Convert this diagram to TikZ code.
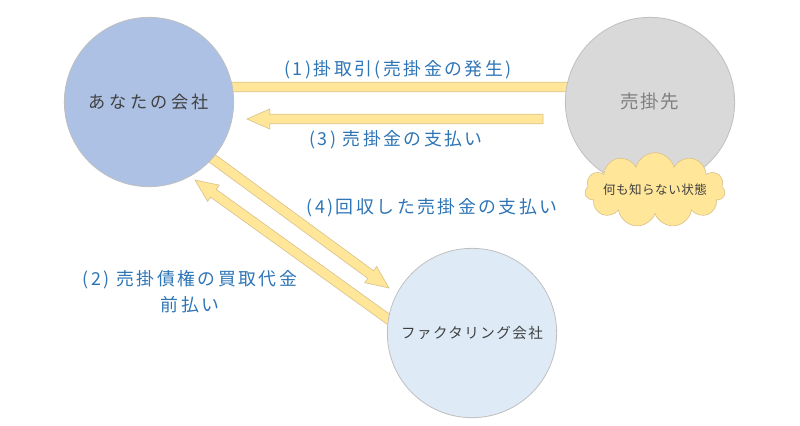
\documentclass[tikz,border=0pt]{standalone}
\usepackage{fontspec}
\setmainfont{Noto Sans CJK JP}
\usetikzlibrary{calc,backgrounds,shapes.symbols}

\definecolor{youblue}{HTML}{ADC1E5}
\definecolor{buyergray}{HTML}{D9D9D9}
\definecolor{factorblue}{HTML}{DEEBF7}
\definecolor{bandyellow}{HTML}{FFE699}
\definecolor{bandedge}{HTML}{D9C48E}
\definecolor{ringgray}{HTML}{BFBFBF}
\definecolor{labelblue}{HTML}{2E75B6}
\definecolor{textgray}{HTML}{404040}

% wide arrow from #1 to #2
\newcommand{\bandarrow}[2]{%
  \coordinate (hb) at ($(#2)!17pt!(#1)$);
  \filldraw[band] ($(#1)!3.6pt!-90:(#2)$) -- ($(hb)!3.6pt!-90:(#2)$)
    -- ($(hb)!7.5pt!-90:(#2)$) -- (#2) -- ($(hb)!7.5pt!90:(#2)$)
    -- ($(hb)!3.6pt!90:(#2)$) -- ($(#1)!3.6pt!90:(#2)$) -- cycle;
}

\begin{document}
\begin{tikzpicture}[x=0.75pt, y=-0.75pt,
  company/.style={circle, draw=ringgray, line width=0.6pt, minimum size=127pt, inner sep=0pt},
  band/.style={fill=bandyellow, draw=bandedge, line width=0.5pt},
  flowlabel/.style={text=labelblue, font=\fontsize{13.4pt}{19.5pt}\selectfont\addfontfeature{LetterSpace=14}}]
\useasboundingbox (0,0) rectangle (800,425);

\node [company, fill=youblue, text=textgray,
  font=\fontsize{12.9pt}{15pt}\selectfont\addfontfeature{LetterSpace=20}] (you) at (149,102) {あなたの会社};
\node [company, fill=buyergray, text=gray,
  font=\fontsize{13.9pt}{16pt}\selectfont\addfontfeature{LetterSpace=8}] (buyer) at (650,102) {売掛先};
\node [company, fill=factorblue, text=textgray,
  font=\fontsize{10.9pt}{13pt}\selectfont\addfontfeature{LetterSpace=10}] (factor) at (472,333) {ファクタリング会社};
\node [cloud, cloud puffs=11, aspect=1.9, fill=bandyellow, draw=bandedge, line width=0.5pt,
  minimum width=105pt, minimum height=56pt, inner sep=0pt,
  label={[text=textgray, font=\fontsize{9.4pt}{11pt}\selectfont\addfontfeature{LetterSpace=4}]center:何も知らない状態}]
  (unaware) at (655,190) {};

% arrow ends
\coordinate (t1) at ($(you.center)+(0,-15)$);
\coordinate (h1) at ($(buyer.center)+(-50,-15)$);
\coordinate (t3) at ($(buyer.center)+(-107,17)$);
\coordinate (h3) at ($(you.center)+(98,17)$);
\coordinate (t4) at ($(you.center)+(0,10)$);
\coordinate (h4) at ($(factor.center)+(-83,-45)$);
\coordinate (t2) at ($(factor.center)+(-52,9)$);
\coordinate (h2) at ($(you.center)+(46,78)$);

\begin{scope}[on background layer]
  \bandarrow{t1}{h1}
  \bandarrow{t3}{h3}
  \bandarrow{t4}{h4}
  \bandarrow{t2}{h2}
\end{scope}

\node [flowlabel] (sale) at (398,70) {(1)掛取引(売掛金の発生)};
\node [flowlabel] (payback) at (396,140) {(3) 売掛金の支払い};
\node [flowlabel] (handover) at (432,208) {(4)回収した売掛金の支払い};
\node [flowlabel, align=center] (advance) at (190,292) {(2) 売掛債権の買取代金\\前払い};
\end{tikzpicture}
\end{document}
